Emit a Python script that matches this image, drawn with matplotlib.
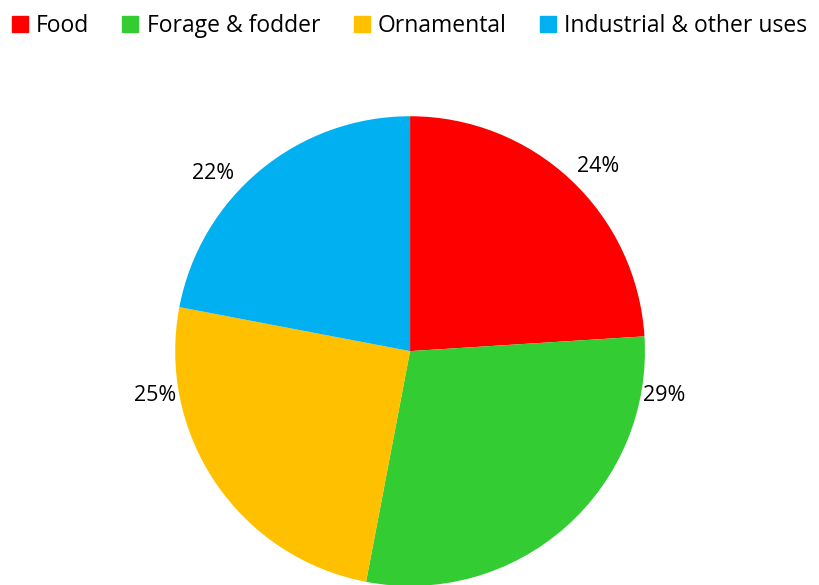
import numpy as np
import matplotlib.pyplot as plt
from matplotlib.lines import Line2D

plt.rcParams['font.family'] = ['Open Sans', 'DejaVu Sans']

# data
categories = ['Food', 'Forage & fodder', 'Ornamental', 'Industrial & other uses']
shares = [24, 29, 25, 22]
colors = ['#FF0000', '#33CC33', '#FFC000', '#00B0F0']

# where the percent labels sit (angle in degrees, distance in radii)
label_angles = [44.5, -9.8, 189.8, 137.9]
label_dist = [1.12, 1.10, 1.10, 1.13]

fig = plt.figure(figsize=(8.19, 5.85), dpi=100)
ax = fig.add_axes([0.2137, -0.0017, 0.574, 0.803])

wedges, texts = ax.pie(shares, colors=colors, startangle=90, counterclock=False,
                       wedgeprops=dict(linewidth=0))
ax.set_xlim(-1, 1)
ax.set_ylim(-1, 1)
ax.set_aspect('equal')

for v, a, d in zip(shares, label_angles, label_dist):
    r = np.deg2rad(a)
    ax.text(d * np.cos(r), d * np.sin(r), f'{v}%', ha='center', va='center',
            fontsize=15.5, clip_on=False)

handles = [Line2D([], [], marker='s', linestyle='none', markersize=11,
                  markerfacecolor=c, markeredgecolor=c) for c in colors]
fig.legend(handles, categories, loc='upper center', bbox_to_anchor=(0.5, 1.012),
           ncol=4, frameon=False, fontsize=16.5, handletextpad=0.36,
           columnspacing=1.45, handlelength=0.7)

fig.savefig('out.png', dpi=100)
